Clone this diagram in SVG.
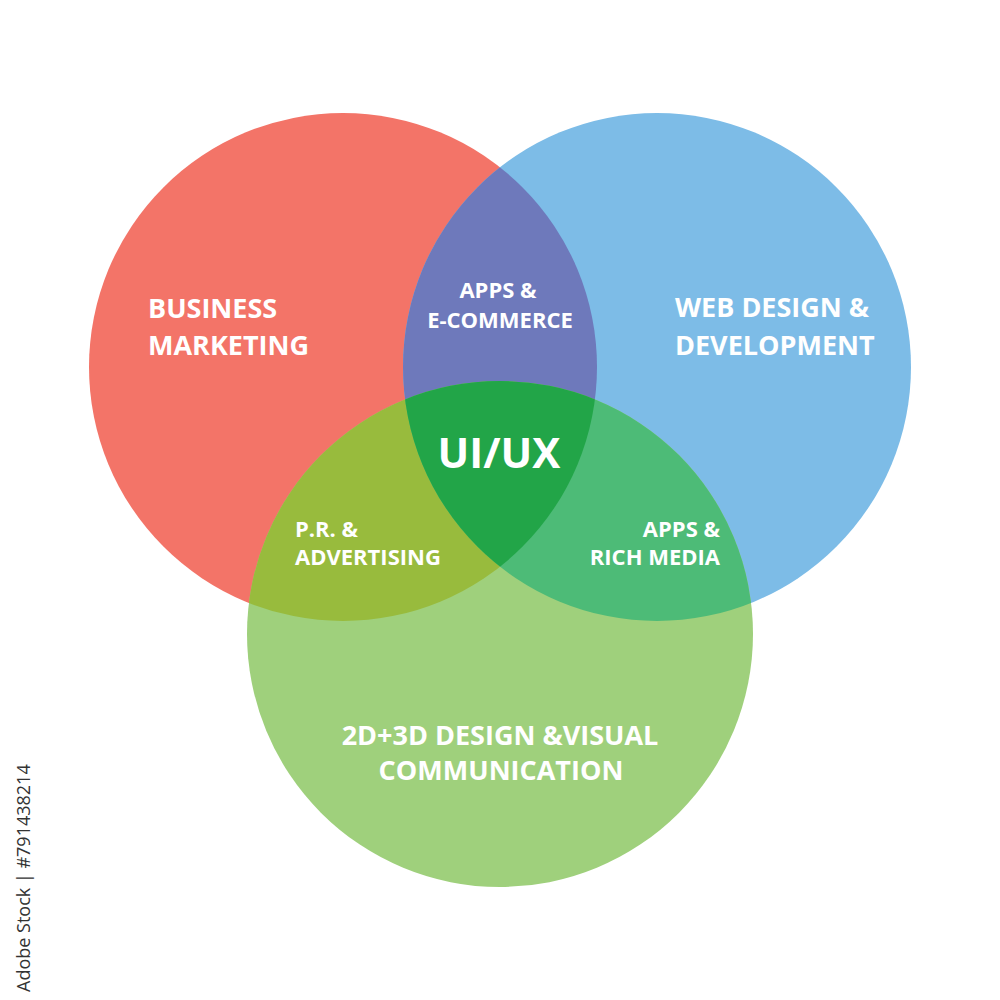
<svg xmlns="http://www.w3.org/2000/svg" width="1000" height="1000" viewBox="0 0 1000 1000">
  <style>
    .lbl { font-family: "Open Sans", "Noto Sans", "Liberation Sans", sans-serif; font-weight: 700; fill: #ffffff; }
    .big { font-size: 27px; }
    .mid { font-size: 22px; }
    .main { font-size: 42px; }
    .id { font-family: "Open Sans", "Noto Sans", "Liberation Sans", sans-serif; font-size: 18px; fill: #333333; }
  </style>
  <defs>
    <clipPath id="clipRed"><circle cx="343" cy="367" r="254"/></clipPath>
    <clipPath id="clipBlue"><circle cx="657" cy="367" r="254"/></clipPath>
  </defs>
  <rect width="1000" height="1000" fill="#ffffff"/>

  <g id="business-marketing">
    <circle cx="343" cy="367" r="254" fill="#F37468"/>
    <text class="lbl big" x="148" y="318">BUSINESS</text>
    <text class="lbl big" x="148" y="355">MARKETING</text>
  </g>

  <g id="web-design">
    <circle cx="657" cy="367" r="254" fill="#7DBCE7"/>
    <text class="lbl big" x="675" y="317">WEB DESIGN &amp;</text>
    <text class="lbl big" x="675" y="355">DEVELOPMENT</text>
  </g>

  <g id="visual-communication">
    <circle cx="500" cy="634" r="253" fill="#9FD07C"/>
    <text class="lbl big" x="500" y="745" text-anchor="middle">2D+3D DESIGN &amp;VISUAL</text>
    <text class="lbl big" x="501" y="780" text-anchor="middle">COMMUNICATION</text>
  </g>

  <g id="apps-ecommerce">
    <circle cx="657" cy="367" r="254" fill="#6E79BB" clip-path="url(#clipRed)"/>
    <text class="lbl mid" x="498" y="298" text-anchor="middle">APPS &amp;</text>
    <text class="lbl mid" x="500" y="328" text-anchor="middle">E-COMMERCE</text>
  </g>

  <g id="pr-advertising">
    <circle cx="500" cy="634" r="253" fill="#98BB3D" clip-path="url(#clipRed)"/>
    <text class="lbl mid" x="295" y="537">P.R. &amp;</text>
    <text class="lbl mid" x="295" y="565">ADVERTISING</text>
  </g>

  <g id="apps-rich-media">
    <circle cx="500" cy="634" r="253" fill="#4DBB77" clip-path="url(#clipBlue)"/>
    <text class="lbl mid" x="720" y="537" text-anchor="end">APPS &amp;</text>
    <text class="lbl mid" x="720" y="565" text-anchor="end">RICH MEDIA</text>
  </g>

  <g id="ui-ux">
    <g clip-path="url(#clipBlue)">
      <circle cx="500" cy="634" r="253" fill="#22A548" clip-path="url(#clipRed)"/>
    </g>
    <text class="lbl main" x="499" y="468" text-anchor="middle">UI/UX</text>
  </g>

  <g id="connectors"></g>

  <text class="id" transform="translate(30,992) rotate(-90)">Adobe Stock | #791438214</text>
</svg>
